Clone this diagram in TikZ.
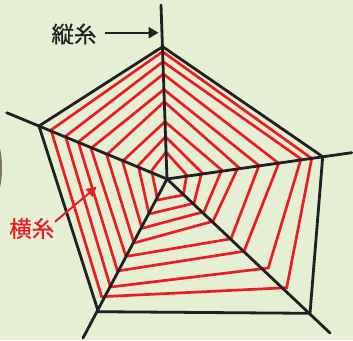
\documentclass[tikz,border=0pt]{standalone}
\usepackage{fontspec}
\newfontfamily\cjk[FakeBold=0.6]{Noto Sans CJK JP}
\usetikzlibrary{arrows.meta}
\definecolor{bg}{RGB}{228,239,212}
\definecolor{webred}{RGB}{237,28,36}
\definecolor{webblack}{RGB}{35,31,32}
\definecolor{blob}{RGB}{128,118,88}
\begin{document}
\begin{tikzpicture}[x=1pt,y=-1pt,
  spoke/.style={webblack,line width=2.8pt,line cap=round},
  ring/.style={webred,line width=2.7pt,line join=miter},
  lbl/.style={font=\cjk\fontsize{22.5}{22.5}\selectfont,inner sep=0pt}]
\fill[bg] (0,0) rectangle (353,340);
\useasboundingbox (0,0) rectangle (353,340);
\begin{scope}
  \clip (0,0) rectangle (353,340);
  \fill[blob] (-5,168) ellipse (7pt and 28pt);
\end{scope}
% spokes geometry
\coordinate (C) at (167,179);
\coordinate (E0) at (161,5);
\coordinate (E1) at (351.7,152.7);
\coordinate (E2) at (330,333);
\coordinate (E3) at (83,338);
\coordinate (E4) at (6.7,112.7);
\coordinate (V0) at (162.7,46.7);
\coordinate (V1) at (322.7,156.7);
\coordinate (V2) at (310,313.3);
\coordinate (V3) at (98.3,311.7);
\coordinate (V4) at (39,126);
% red rings (横糸)
\draw[ring] (162.6,51.7) -- (311.7,158.5) -- (286.7,287.7) -- (101.7,296.7) -- (51,130) -- cycle;
\draw[ring] (163.0,61.7) -- (301,159) -- (268.3,268) -- (110.5,287) -- (65.5,136.3) -- cycle;
\draw[ring] (163.4,74) -- (278.7,163.3) -- (244,251.3) -- (117.5,271) -- (78.3,142) -- cycle;
\draw[ring] (163.9,89.5) -- (259,165.5) -- (231,238.8) -- (126,256.5) -- (91,148.3) -- cycle;
\draw[ring] (164.3,101.7) -- (238.3,167) -- (213,221.3) -- (134,243) -- (106.7,154.7) -- cycle;
\draw[ring] (165,121.7) -- (221.7,170) -- (204,211.7) -- (142,228.3) -- (122.5,161.2) -- cycle;
\draw[ring] (165.5,136.7) -- (201.7,172.5) -- (194,203.3) -- (149,214) -- (138.3,165.5) -- cycle;
\draw[ring] (166.1,152) -- (186.7,175) -- (183.3,195) -- (157.5,200) -- (151.7,170.5) -- cycle;
% black spokes and frame (縦糸)
\foreach \i in {0,...,4} { \draw[spoke] (C) -- (E\i); }
\draw[webblack,line width=2.8pt,line join=miter] (V0) -- (V1) -- (V2) -- (V3) -- (V4) -- cycle;
% labels
\node[lbl,text=webblack] (tate) at (74,34) {縦糸};
\coordinate (tateFrom) at (105,32.7);
\coordinate (tateTip) at (158.5,32.7);
\draw[webblack,line width=2.3pt,-{Triangle[length=10pt,width=11pt]}] (tateFrom) -- (tateTip);
\node[lbl,text=webred] (yoko) at (31.7,228.5) {横糸};
\coordinate (yokoFrom) at (55,221.7);
\coordinate (yokoTip) at (96.7,186.7);
\draw[webred,line width=2pt,-{Triangle[length=10pt,width=10pt]}] (yokoFrom) -- (yokoTip);
\end{tikzpicture}
\end{document}
